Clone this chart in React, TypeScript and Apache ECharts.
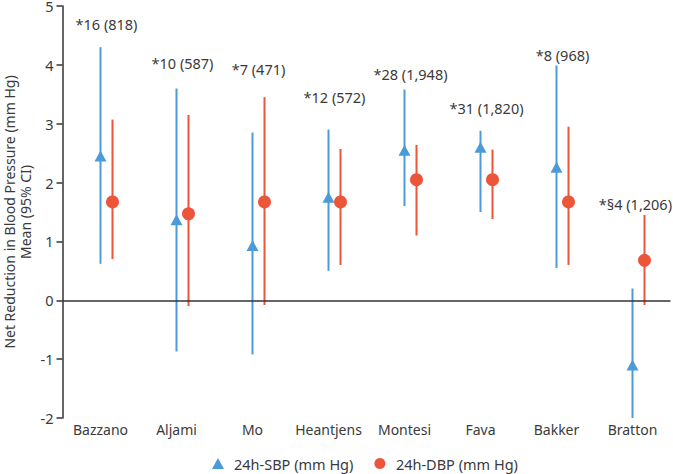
import React, { useEffect, useRef } from "react";
import * as echarts from "echarts";

const studies = ["Bazzano", "Aljami", "Mo", "Heantjens", "Montesi", "Fava", "Bakker", "Bratton"];
const sbpMean = [2.45, 1.37, 0.93, 1.75, 2.55, 2.6, 2.26, -1.1];
const sbpLow = [0.62, -0.87, -0.92, 0.5, 1.6, 1.5, 0.55, -2.0];
const sbpHigh = [4.3, 3.6, 2.85, 2.9, 3.58, 2.88, 3.99, 0.2];
const dbpMean = [1.67, 1.47, 1.67, 1.67, 2.05, 2.05, 1.67, 0.68];
const dbpLow = [0.7, -0.1, -0.08, 0.6, 1.1, 1.38, 0.6, -0.08];
const dbpHigh = [3.07, 3.15, 3.45, 2.57, 2.64, 2.56, 2.95, 1.45];
const notes = ["*16 (818)", "*10 (587)", "*7 (471)", "*12 (572)", "*28 (1,948)", "*31 (1,820)", "*8 (968)", "*§4 (1,206)"];
const noteY = [4.7, 4.04, 3.93, 3.45, 3.84, 3.27, 4.17, 1.64];
const yTicks = [-2, -1, 0, 1, 2, 3, 4, 5];

const BLUE = "#4a9bd8";
const RED = "#ec553a";
const TEXT = "#3a3a3a";
const FONT = "'Noto Sans', 'Open Sans', sans-serif";
const NOTE_SIZE = 14.5;
const SBP_OFF = 0;
const DBP_OFF = 12;

let measureCtx: CanvasRenderingContext2D | null = null;
function textWidth(t: string): number {
  if (!measureCtx) measureCtx = document.createElement("canvas").getContext("2d");
  if (!measureCtx) return t.length * 7;
  measureCtx.font = `${NOTE_SIZE}px 'Noto Sans', sans-serif`;
  return measureCtx.measureText(t).width;
}

function errorBar(offset: number, color: string) {
  return (params: any, api: any) => {
    const i = api.value(0);
    const lo = api.coord([i, api.value(1)]);
    const hi = api.coord([i, api.value(2)]);
    return {
      type: "line",
      shape: { x1: lo[0] + offset, y1: lo[1], x2: hi[0] + offset, y2: hi[1] },
      style: { stroke: color, lineWidth: 2 },
    };
  };
}

export default function App() {
  const ref = useRef<HTMLDivElement>(null);
  useEffect(() => {
    if (!ref.current) return;
    const chart = echarts.init(ref.current, null, { renderer: "svg" });
    chart.setOption({
      animation: false,
      backgroundColor: "#ffffff",
      grid: { left: 62.5, right: 2.5, top: 6, bottom: 56, containLabel: false, outerBoundsMode: "none" },
      legend: {
        data: [
          { name: "24h-SBP (mm Hg)", icon: "triangle" },
          { name: "24h-DBP (mm Hg)", icon: "circle" },
        ],
        top: 451,
        left: 207,
        itemWidth: 12,
        itemHeight: 11,
        itemGap: 21,
        textStyle: { fontSize: 14.5, color: TEXT, fontFamily: FONT, padding: [0, 0, 0, 5] },
      },
      xAxis: {
        type: "category",
        data: studies,
        boundaryGap: true,
        axisLine: { show: false },
        axisTick: { show: false },
        axisLabel: { fontSize: 14, color: TEXT, fontFamily: FONT, margin: 4, interval: 0 },
      },
      yAxis: {
        type: "value",
        min: -2,
        max: 5,
        interval: 1,
        name: "Net Reduction in Blood Pressure (mm Hg)\nMean (95% CI)",
        nameLocation: "middle",
        nameGap: 29.5,
        nameMoveOverlap: false,
        nameRotate: 90,
        nameTextStyle: { fontSize: 14, color: TEXT, fontFamily: FONT, lineHeight: 16 },
        axisLine: { show: true, lineStyle: { color: "#333", width: 1.5 } },
        axisTick: { show: true, length: 6, lineStyle: { color: "#333", width: 1.5 } },
        splitLine: { show: false },
        axisLabel: {
          fontSize: 14.5,
          lineHeight: 12,
          color: TEXT,
          fontFamily: FONT,
          margin: 9,
          formatter: (v: number) => (yTicks.includes(v) ? String(v) : ""),
        },
      },
      series: [
        {
          name: "sbpErr",
          type: "custom",
          renderItem: errorBar(SBP_OFF, BLUE),
          data: studies.map((_, i) => [i, sbpLow[i], sbpHigh[i]]),
          z: 2,
          markLine: {
            silent: true,
            symbol: "none",
            label: { show: false },
            lineStyle: { color: "#333", width: 1.5, type: "solid" },
            data: [{ yAxis: 0 }],
          },
        },
        {
          name: "dbpErr",
          type: "custom",
          renderItem: errorBar(DBP_OFF, RED),
          data: studies.map((_, i) => [i, dbpLow[i], dbpHigh[i]]),
          z: 2,
        },
        {
          name: "24h-SBP (mm Hg)",
          type: "scatter",
          symbol: "triangle",
          symbolSize: [12, 11],
          symbolOffset: [SBP_OFF, 0],
          itemStyle: { color: BLUE, opacity: 1 },
          data: sbpMean,
          z: 3,
        },
        {
          name: "24h-DBP (mm Hg)",
          type: "scatter",
          symbol: "circle",
          symbolSize: 13,
          symbolOffset: [DBP_OFF, 0],
          itemStyle: { color: RED, opacity: 1 },
          data: dbpMean,
          z: 3,
        },
        {
          name: "notes",
          type: "custom",
          renderItem: (params: any, api: any) => {
            const i = api.value(0);
            const p = api.coord([i, api.value(1)]);
            const w = textWidth(notes[i]);
            const x = Math.min(p[0] + 6, api.getWidth() - w / 2 - 1);
            return {
              type: "text",
              x,
              y: p[1],
              style: {
                text: notes[i],
                fill: TEXT,
                fontSize: NOTE_SIZE,
                fontFamily: FONT,
                align: "center",
                verticalAlign: "middle",
              },
            };
          },
          data: studies.map((_, i) => [i, noteY[i]]),
          z: 4,
        },
      ],
    });
    return () => chart.dispose();
  }, []);
  return (
    <div
      ref={ref}
      style={{ position: "fixed", left: 0, top: 0, width: 673, height: 474 }}
    />
  );
}
